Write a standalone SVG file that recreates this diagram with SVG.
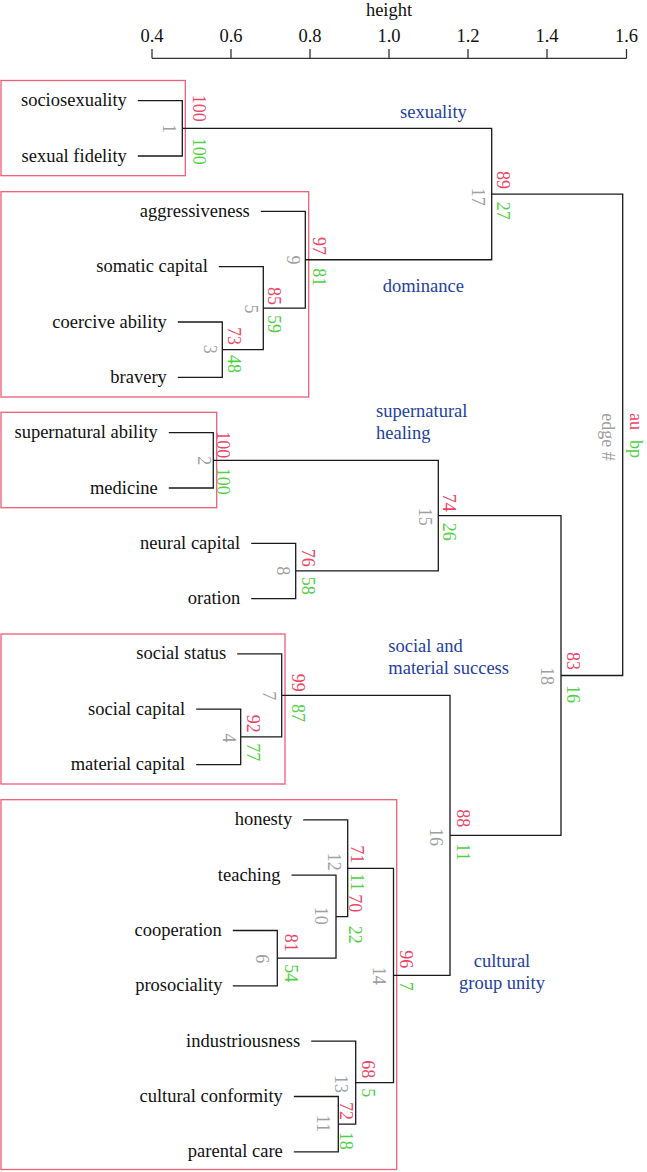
<svg xmlns="http://www.w3.org/2000/svg" width="647" height="1172" viewBox="0 0 647 1172" font-family="'Liberation Serif', 'Times New Roman', 'DejaVu Serif', serif">
<style>
text, tspan{font-family:'Liberation Serif', 'Times New Roman', 'DejaVu Serif', serif}
.leaf{font-size:18.5px;fill:#111;text-anchor:end}
.ax{font-size:18.5px;fill:#111;text-anchor:middle}
.grp{font-size:18.5px;fill:#1e41a0}
.au{font-size:18px;fill:#eb4664;text-anchor:end}
.bp{font-size:18px;fill:#52d043;text-anchor:start}
.ed{font-size:18px;fill:#a0a0a0;text-anchor:middle}
.box{fill:none;stroke:#ec5f78;stroke-width:1.3}
.tree path{fill:none;stroke:#1a1a1a;stroke-width:1.3}
.axis path{fill:none;stroke:#333;stroke-width:1.3}
</style>
<rect width="647" height="1172" fill="#fff"/>
<g id="axis" class="axis">
<text class="ax" x="389" y="16">height</text>
<path d="M152,58.3 H626.5 M152,49 V58.3 M231,49 V58.3 M310,49 V58.3 M389,49 V58.3 M468,49 V58.3 M547,49 V58.3 M626.5,49 V58.3"/>
<text class="ax" x="152" y="42">0.4</text>
<text class="ax" x="231" y="42">0.6</text>
<text class="ax" x="310" y="42">0.8</text>
<text class="ax" x="389" y="42">1.0</text>
<text class="ax" x="468" y="42">1.2</text>
<text class="ax" x="547" y="42">1.4</text>
<text class="ax" x="626.5" y="42">1.6</text>
</g>
<g id="clusters">
<rect id="box-sexuality" class="box" x="1" y="80.5" width="184.3" height="95.2"/>
<rect id="box-dominance" class="box" x="1" y="191.7" width="307.7" height="205.3"/>
<rect id="box-supernatural" class="box" x="1" y="412.3" width="215.7" height="95.4"/>
<rect id="box-social" class="box" x="1" y="634" width="284" height="150"/>
<rect id="box-cultural" class="box" x="1" y="799.7" width="395.7" height="369.8"/>
</g>
<g id="group-labels" class="grp">
<text id="lbl-sexuality" x="400" y="118.3">sexuality</text>
<text id="lbl-dominance" x="382.7" y="291.7">dominance</text>
<text id="lbl-supernatural" x="376" y="416.7">supernatural<tspan x="376" y="439.3">healing</tspan></text>
<text id="lbl-social" x="388.3" y="651.7">social and<tspan x="388.3" y="674.3">material success</tspan></text>
<text id="lbl-cultural" x="502" y="966.7" text-anchor="middle">cultural<tspan x="502" y="989.3">group unity</tspan></text>
</g>
<g id="connectors" class="tree">
<path d="M137.8,100.7 H182.3 V156 H137.8"/>
<path d="M177.8,322 H222.3 V377.3 H177.8"/>
<path d="M218.8,266.7 H263.3 V349.65 H222.3"/>
<path d="M260.8,211.3 H305.3 V308.2 H263.3"/>
<path d="M182.3,128.35 H491.7 V259.75 H305.3"/>
<path d="M168.8,432.6 H213.3 V488 H168.8"/>
<path d="M251.2,543.3 H295.7 V598.6 H251.2"/>
<path d="M213.3,460.3 H438.3 V570.95 H295.7"/>
<path d="M196.2,709.2 H240.7 V764.6 H196.2"/>
<path d="M237.2,653.9 H281.7 V736.9 H240.7"/>
<path d="M232.8,930.5 H277.3 V985.8 H232.8"/>
<path d="M291.5,875.2 H336 V958.15 H277.3"/>
<path d="M303.2,819.9 H347.7 V916.7 H336"/>
<path d="M293.8,1096.5 H338.3 V1151.8 H293.8"/>
<path d="M311.2,1041.1 H355.7 V1124.15 H338.3"/>
<path d="M347.7,868.3 H393.5 V1082.6 H355.7"/>
<path d="M281.7,695.4 H450 V975.45 H393.5"/>
<path d="M438.3,515.6 H561 V835.4 H450"/>
<path d="M491.7,194.05 H622.7 V675.5 H561"/>
</g>
<g id="leaves" class="leaf">
<g id="leaf-sociosexuality"><text x="126.8" y="106.2">sociosexuality</text></g>
<g id="leaf-sexual-fidelity"><text x="126.8" y="161.5">sexual fidelity</text></g>
<g id="leaf-aggressiveness"><text x="249.8" y="216.8">aggressiveness</text></g>
<g id="leaf-somatic-capital"><text x="207.8" y="272.2">somatic capital</text></g>
<g id="leaf-coercive-ability"><text x="166.8" y="327.5">coercive ability</text></g>
<g id="leaf-bravery"><text x="166.8" y="382.8">bravery</text></g>
<g id="leaf-supernatural-ability"><text x="157.8" y="438.1">supernatural ability</text></g>
<g id="leaf-medicine"><text x="157.8" y="493.5">medicine</text></g>
<g id="leaf-neural-capital"><text x="240.2" y="548.8">neural capital</text></g>
<g id="leaf-oration"><text x="240.2" y="604.1">oration</text></g>
<g id="leaf-social-status"><text x="226.2" y="659.4">social status</text></g>
<g id="leaf-social-capital"><text x="185.2" y="714.7">social capital</text></g>
<g id="leaf-material-capital"><text x="185.2" y="770.1">material capital</text></g>
<g id="leaf-honesty"><text x="292.2" y="825.4">honesty</text></g>
<g id="leaf-teaching"><text x="280.5" y="880.7">teaching</text></g>
<g id="leaf-cooperation"><text x="221.8" y="936">cooperation</text></g>
<g id="leaf-prosociality"><text x="222.5" y="991.3">prosociality</text></g>
<g id="leaf-industriousness"><text x="300.2" y="1046.6">industriousness</text></g>
<g id="leaf-cultural-conformity"><text x="282.8" y="1102">cultural conformity</text></g>
<g id="leaf-parental-care"><text x="282.8" y="1157.3">parental care</text></g>
</g>
<g id="nodes">
<g id="node-1"><text class="au" transform="translate(192.7,121.7) rotate(90)">100</text><text class="bp" transform="translate(192.7,137.7) rotate(90)">100</text><text class="ed" transform="translate(163,128.4) rotate(90)">1</text></g>
<g id="node-9"><text class="au" transform="translate(313.3,255) rotate(90)">97</text><text class="bp" transform="translate(313.3,268.3) rotate(90)">81</text><text class="ed" transform="translate(286.7,260) rotate(90)">9</text></g>
<g id="node-5"><text class="au" transform="translate(268.3,305) rotate(90)">85</text><text class="bp" transform="translate(268.3,315) rotate(90)">59</text><text class="ed" transform="translate(245,309) rotate(90)">5</text></g>
<g id="node-3"><text class="au" transform="translate(227.7,345) rotate(90)">73</text><text class="bp" transform="translate(227.7,355) rotate(90)">48</text><text class="ed" transform="translate(204,349.3) rotate(90)">3</text></g>
<g id="node-17"><text class="au" transform="translate(496.7,189) rotate(90)">89</text><text class="bp" transform="translate(496.7,201.7) rotate(90)">27</text><text class="ed" transform="translate(471.7,196.7) rotate(90)">17</text></g>
<g id="node-2"><text class="au" transform="translate(216.7,458.3) rotate(90)">100</text><text class="bp" transform="translate(216.7,467.7) rotate(90)">100</text><text class="ed" transform="translate(198.3,460.8) rotate(90)">2</text></g>
<g id="node-8"><text class="au" transform="translate(301.7,566.7) rotate(90)">76</text><text class="bp" transform="translate(301.7,576.7) rotate(90)">58</text><text class="ed" transform="translate(276.7,570.8) rotate(90)">8</text></g>
<g id="node-15"><text class="au" transform="translate(443.3,511.7) rotate(90)">74</text><text class="bp" transform="translate(443.3,522.7) rotate(90)">26</text><text class="ed" transform="translate(419.3,516.7) rotate(90)">15</text></g>
<g id="node-18"><text class="au" transform="translate(566.7,670) rotate(90)">83</text><text class="bp" transform="translate(566.7,685) rotate(90)">16</text><text class="ed" transform="translate(540.7,676) rotate(90)">18</text></g>
<g id="node-16"><text class="au" transform="translate(456.7,827.3) rotate(90)">88</text><text class="bp" transform="translate(456.7,843.3) rotate(90)">11</text><text class="ed" transform="translate(430,837) rotate(90)">16</text></g>
<g id="node-4"><text class="au" transform="translate(246.7,732.7) rotate(90)">92</text><text class="bp" transform="translate(246.7,743.3) rotate(90)">77</text><text class="ed" transform="translate(222.7,738) rotate(90)">4</text></g>
<g id="node-7"><text class="au" transform="translate(291.7,691.7) rotate(90)">99</text><text class="bp" transform="translate(291.7,704) rotate(90)">87</text><text class="ed" transform="translate(263.3,695.8) rotate(90)">7</text></g>
<g id="node-6"><text class="au" transform="translate(285,951.7) rotate(90)">81</text><text class="bp" transform="translate(285,964.3) rotate(90)">54</text><text class="ed" transform="translate(256,958.7) rotate(90)">6</text></g>
<g id="node-10"><text class="au" transform="translate(349.3,912.3) rotate(90)">70</text><text class="bp" transform="translate(349.3,925.7) rotate(90)">22</text><text class="ed" transform="translate(315,915.8) rotate(90)">10</text></g>
<g id="node-12"><text class="au" transform="translate(351,863.3) rotate(90)">71</text><text class="bp" transform="translate(351,873.3) rotate(90)">11</text><text class="ed" transform="translate(328.3,861.7) rotate(90)">12</text></g>
<g id="node-14"><text class="au" transform="translate(400,968.3) rotate(90)">96</text><text class="bp" transform="translate(400,981.7) rotate(90)">7</text><text class="ed" transform="translate(373.3,975.8) rotate(90)">14</text></g>
<g id="node-11"><text class="au" transform="translate(340,1120) rotate(90)">72</text><text class="bp" transform="translate(340,1131.7) rotate(90)">18</text><text class="ed" transform="translate(316.7,1123.3) rotate(90)">11</text></g>
<g id="node-13"><text class="au" transform="translate(361.7,1078.3) rotate(90)">68</text><text class="bp" transform="translate(361.7,1088.3) rotate(90)">5</text><text class="ed" transform="translate(335,1084) rotate(90)">13</text></g>
<g id="legend"><text class="au" transform="translate(630,430) rotate(90)">au</text><text class="bp" transform="translate(630,440) rotate(90)">bp</text><text class="ed" transform="translate(602,437) rotate(90)">edge #</text></g>
</g>
</svg>
